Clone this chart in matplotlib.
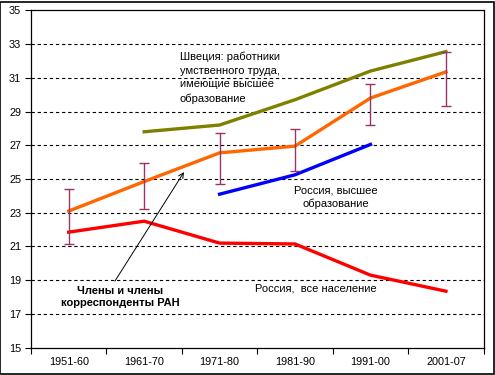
import numpy as np
import matplotlib.pyplot as plt
from matplotlib.patches import Rectangle

plt.rcParams['font.family'] = ['Liberation Sans', 'DejaVu Sans']

periods = ['1951-60', '1961-70', '1971-80', '1981-90', '1991-00', '2001-07']
ran = [23.1, 24.85, 26.55, 26.95, 29.8, 31.35]          # члены и член-корр. РАН
ran_low = [21.15, 23.25, 24.7, 25.45, 28.2, 29.3]
ran_high = [24.4, 25.95, 27.7, 27.95, 30.65, 32.55]
sweden = [np.nan, 27.8, 28.2, 29.7, 31.4, 32.55]         # Швеция
russia_high = [np.nan, np.nan, 24.1, 25.25, 27.05, np.nan]
russia_all = [21.85, 22.5, 21.2, 21.15, 19.3, 18.35]

fig = plt.figure(figsize=(4.95, 3.75), dpi=100)
ax = fig.add_axes([0.0626, 0.0728, 0.9145, 0.8997])
x = np.arange(len(periods))

# сетка
for yv in range(17, 35, 2):
    ax.axhline(yv, color='black', lw=0.8, ls=(0, (3, 2.5)), zorder=1)

ax.plot(x, sweden, color='#808000', lw=2.4, zorder=3)
ax.plot(x, ran, color='#FF6600', lw=2.4, zorder=3)
ax.plot(x, russia_high, color='#0000FF', lw=2.4, zorder=3)
ax.plot(x, russia_all, color='#FF0000', lw=2.4, zorder=3)

lo = np.array(ran) - np.array(ran_low)
hi = np.array(ran_high) - np.array(ran)
ax.errorbar(x, ran, yerr=[lo, hi], fmt='none', ecolor='#993366',
            elinewidth=1.0, capsize=3.5, capthick=1.0, zorder=4)

ax.set_xlim(-0.5, 5.5)
ax.set_ylim(15, 35)
ax.set_yticks(range(15, 36, 2))
ax.set_xticks(np.arange(-0.5, 6, 1))
ax.set_xticklabels([])
ax.set_xticks(x, minor=True)
ax.set_xticklabels(periods, minor=True)
ax.tick_params(axis='x', which='minor', length=0, pad=7, labelsize=7.8)
ax.tick_params(axis='x', which='major', length=4, width=0.8, direction='out')
ax.tick_params(axis='y', length=4, width=0.8, direction='out', labelsize=7.8, pad=3)
for s in ax.spines.values():
    s.set_linewidth(0.9)

ax.text(1.475, 31.0, 'Швеция: работники\nумственного труда,\nимеющие высшее\nобразование',
        fontsize=8, ha='left', va='center', linespacing=1.44)
ax.text(3.54, 23.93, 'Россия, высшее\nобразование', fontsize=8,
        ha='center', va='center', linespacing=1.37)
ax.text(2.469, 18.48, 'Россия,  все население', fontsize=8, ha='left', va='center')
ax.text(0.686, 18.02, 'Члены и члены\nкорреспонденты РАН', fontsize=8,
        fontweight='bold', ha='center', va='center', linespacing=1.28)
ax.annotate('', xy=(1.528, 25.41), xytext=(0.613, 18.95),
            arrowprops=dict(arrowstyle='->', color='black', lw=0.7,
                            mutation_scale=9, shrinkA=0, shrinkB=0))

fig.patches.append(Rectangle((0.001, 0.003), 0.996, 0.993, transform=fig.transFigure,
                             fill=False, edgecolor='black', lw=1.2))

fig.savefig('out.png', dpi=100)
